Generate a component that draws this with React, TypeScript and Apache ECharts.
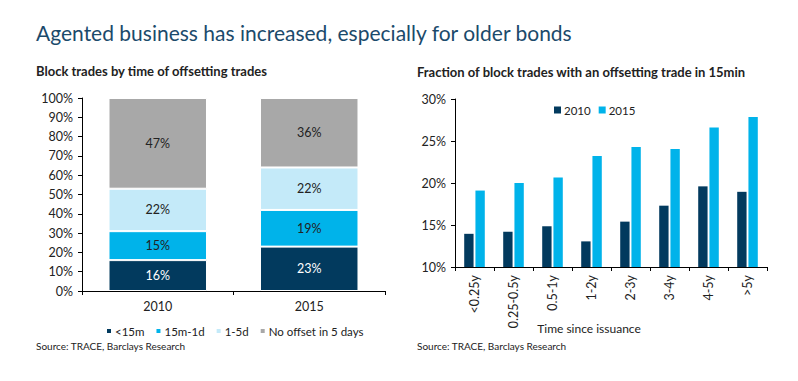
import React, { useEffect, useRef } from "react";
import * as echarts from "echarts";

const years = ["2010", "2015"];
const stackNames = ["<15m", "15m-1d", "1-5d", "No offset in 5 days"];
const lt15m = [16, 23];
const m15to1d = [15, 19];
const d1to5 = [22, 22];
const noOffset = [47, 36];

const ageBuckets = ["<0.25y", "0.25-0.5y", "0.5-1y", "1-2y", "2-3y", "3-4y", "4-5y", ">5y"];
const frac2010 = [13.95, 14.2, 14.85, 13.05, 15.4, 17.3, 19.6, 18.95];
const frac2015 = [19.1, 20.0, 20.65, 23.2, 24.3, 24.05, 26.6, 27.85];

const NAVY = "#023a5e";
const CYAN = "#00b3ea";
const LIGHT = "#c4eaf9";
const GREY = "#a8a8a8";
const FONT = "Lato, sans-serif";
const TXT = "#222";

export default function App() {
  const ref = useRef<HTMLDivElement>(null);
  useEffect(() => {
    if (!ref.current) return;
    const chart = echarts.init(ref.current, null, { renderer: "svg" });
    const stackLabel = (color: string) => ({
      show: true,
      position: "inside",
      color,
      fontSize: 12.5,
      fontFamily: FONT,
      formatter: "{c}%",
    });
    const stackSeries = (name: string, data: number[], color: string, labelColor: string) => ({
      name,
      type: "bar",
      stack: "total",
      xAxisIndex: 0,
      yAxisIndex: 0,
      data,
      barWidth: "65%",
      itemStyle: { color, borderColor: "#fff", borderWidth: 1 },
      label: stackLabel(labelColor),
    });
    chart.setOption({
      animation: false,
      textStyle: { fontFamily: FONT },
      graphic: [
        {
          type: "text",
          left: 36,
          top: 22,
          style: { text: "Agented business has increased, especially for older bonds", font: `21px ${FONT}`, fill: "#1b4a6b" },
        },
        {
          type: "text",
          left: 36,
          top: 64,
          style: { text: "Block trades by time of offsetting trades", font: `bold 13px ${FONT}`, fill: TXT },
        },
        {
          type: "text",
          left: 417,
          top: 65,
          style: { text: "Fraction of block trades with an offsetting trade in 15min", font: `bold 13px ${FONT}`, fill: TXT },
        },
        {
          type: "text",
          left: 36,
          top: 341,
          style: { text: "Source: TRACE, Barclays Research", font: `10px ${FONT}`, fill: TXT },
        },
        {
          type: "text",
          left: 417,
          top: 341,
          style: { text: "Source: TRACE, Barclays Research", font: `10px ${FONT}`, fill: TXT },
        },
        {
          type: "text",
          x: 589,
          y: 328,
          style: { text: "Time since issuance", font: `12px ${FONT}`, fill: TXT, textAlign: "center", textVerticalAlign: "middle" },
        },
      ],
      legend: [
        {
          data: stackNames,
          left: 100,
          top: 320,
          icon: "rect",
          itemWidth: 6,
          itemHeight: 6,
          itemGap: 10,
          textStyle: { fontSize: 11.5, color: TXT, fontFamily: FONT, padding: [0, 0, 0, -2] },
        },
        {
          data: ["2010", "2015"],
          left: 549,
          top: 99,
          icon: "rect",
          itemWidth: 7,
          itemHeight: 7,
          itemGap: 8,
          textStyle: { fontSize: 11.5, color: TXT, fontFamily: FONT, padding: [0, 0, 0, -2] },
        },
      ],
      grid: [
        { left: 82, top: 98, right: 413, bottom: 90 },
        { left: 455, top: 99, right: 31, bottom: 114 },
      ],
      xAxis: [
        {
          type: "category",
          gridIndex: 0,
          data: years,
          axisLine: { lineStyle: { color: "#000", width: 1 } },
          axisTick: { show: true, length: 4, lineStyle: { color: "#000" } },
          axisLabel: { color: TXT, fontSize: 12.5, margin: 9, fontFamily: FONT },
        },
        {
          type: "category",
          gridIndex: 1,
          data: ageBuckets,
          axisLine: { lineStyle: { color: "#000", width: 1 } },
          axisTick: { show: true, length: 4, lineStyle: { color: "#000" } },
          axisLabel: { color: TXT, fontSize: 12.5, margin: 8, rotate: 90, interval: 0, fontFamily: FONT },
        },
      ],
      yAxis: [
        {
          type: "value",
          gridIndex: 0,
          min: 0,
          max: 100,
          interval: 10,
          splitLine: { show: false },
          axisLine: { show: true, lineStyle: { color: "#000", width: 1 } },
          axisTick: { show: true, length: 4, lineStyle: { color: "#000" } },
          axisLabel: { color: TXT, fontSize: 12.5, formatter: "{value}%", margin: 9, fontFamily: FONT },
        },
        {
          type: "value",
          gridIndex: 1,
          min: 10,
          max: 30,
          interval: 5,
          splitLine: { show: false },
          axisLine: { show: true, lineStyle: { color: "#000", width: 1 } },
          axisTick: { show: true, length: 4, lineStyle: { color: "#000" } },
          axisLabel: { color: TXT, fontSize: 12.5, formatter: "{value}%", margin: 9, fontFamily: FONT },
        },
      ],
      series: [
        stackSeries(stackNames[0], lt15m, NAVY, "#fff"),
        stackSeries(stackNames[1], m15to1d, CYAN, TXT),
        stackSeries(stackNames[2], d1to5, LIGHT, TXT),
        stackSeries(stackNames[3], noOffset, GREY, TXT),
        {
          name: "2010",
          type: "bar",
          xAxisIndex: 1,
          yAxisIndex: 1,
          data: frac2010,
          barWidth: "24%",
          barGap: "20%",
          itemStyle: { color: NAVY },
        },
        {
          name: "2015",
          type: "bar",
          xAxisIndex: 1,
          yAxisIndex: 1,
          data: frac2015,
          barWidth: "24%",
          barGap: "20%",
          itemStyle: { color: CYAN },
        },
      ],
    });
    return () => chart.dispose();
  }, []);
  return (
    <div
      ref={ref}
      style={{ position: "fixed", left: 0, top: 0, width: 798, height: 381, background: "#fff" }}
    />
  );
}
